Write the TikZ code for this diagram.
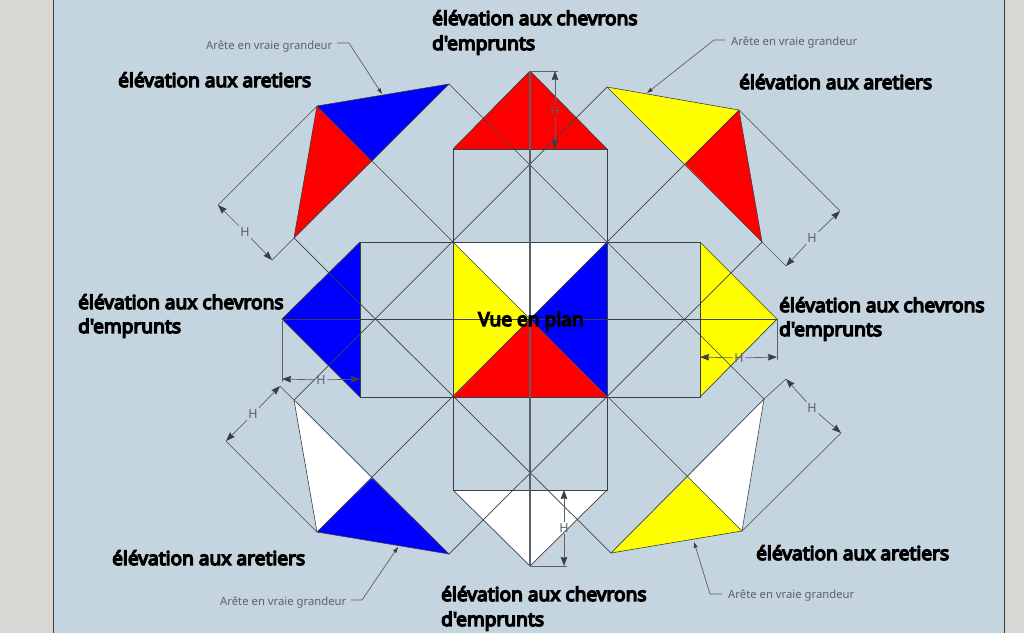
\documentclass[tikz,border=0pt]{standalone}
\usepackage{fontspec}
\usetikzlibrary{arrows.meta}
\newfontfamily\labfont[FakeBold=7]{Noto Sans}
\newfontfamily\smallfont{Noto Sans}
\definecolor{sheet}{HTML}{C5D5E0}
\definecolor{outside}{HTML}{D8D7D3}
\definecolor{pure-red}{HTML}{FF0000}
\definecolor{pure-blue}{HTML}{0000FF}
\definecolor{pure-yellow}{HTML}{FFFF00}
\definecolor{ink}{HTML}{3A3F44}
\definecolor{dimgrey}{HTML}{5C6064}
\tikzset{
  x=1pt,y=-1pt,
  facet/.style={draw=ink,line width=0.6pt},
  build/.style={draw=ink,line width=0.7pt},
  extline/.style={draw=dimgrey,line width=0.7pt},
  dimline/.style={draw=dimgrey,line width=0.7pt,-{Stealth[length=9pt,width=6.5pt,inset=0.8pt,fill=ink,color=ink]}},
  leader/.style={draw=dimgrey,line width=0.7pt,-{Stealth[length=6pt,width=4pt,inset=0.5pt,fill=ink,color=ink]}},
  title/.style={anchor=base west,inner sep=0pt,font=\labfont\fontsize{19.1}{22}\selectfont,text=black},
  note/.style={anchor=base west,inner sep=0pt,font=\smallfont\fontsize{11.3}{12}\selectfont,text=dimgrey},
  hlabel/.style={inner sep=1.5pt,font=\smallfont\fontsize{12.5}{13}\selectfont,text=dimgrey},
}
\begin{document}
\begin{tikzpicture}
\useasboundingbox (0,0) rectangle (1024,633);
\fill[outside] (0,0) rectangle (1024,633);
\fill[sheet] (53,0) rectangle (1004,633);
\draw[line width=1pt,ink] (53,0) -- (53,633) (1004,0) -- (1004,633);
% plan
\coordinate (c) at (530,319);
\coordinate (nw) at (453,242); \coordinate (ne) at (607,242);
\coordinate (sw) at (453,397); \coordinate (se) at (607,397);
\coordinate (tl) at (453,149); \coordinate (tr) at (607,149); \coordinate (ta) at (530,71);
\coordinate (bl) at (453,490); \coordinate (br) at (607,490); \coordinate (ba) at (530,566);
\coordinate (lt) at (360,242); \coordinate (lb) at (360,397); \coordinate (la) at (282,319);
\coordinate (rt) at (700,242); \coordinate (rb) at (700,397); \coordinate (ra) at (777,319);
% hip elevations
\coordinate (A) at (317,106); \coordinate (B) at (449,84); \coordinate (C) at (372,161); \coordinate (D) at (294,238);
\coordinate (P) at (607,87); \coordinate (Q) at (739,110); \coordinate (R) at (685,164); \coordinate (S) at (762,242);
\coordinate (E) at (294,400); \coordinate (F) at (372,478); \coordinate (G) at (317,532); \coordinate (H) at (449,554);
\coordinate (I) at (764,399); \coordinate (J) at (688,477); \coordinate (K) at (742,531); \coordinate (L) at (611,553);
% fills
\fill[white] (nw) -- (ne) -- (c) -- cycle;
\fill[pure-yellow] (nw) -- (sw) -- (c) -- cycle;
\fill[pure-blue] (ne) -- (se) -- (c) -- cycle;
\fill[pure-red] (sw) -- (se) -- (c) -- cycle;
\fill[pure-red] (tl) -- (tr) -- (ta) -- cycle;
\fill[white] (bl) -- (br) -- (ba) -- cycle;
\fill[pure-blue] (lt) -- (lb) -- (la) -- cycle;
\fill[pure-yellow] (rt) -- (rb) -- (ra) -- cycle;
\fill[pure-red] (A) -- (C) -- (D) -- cycle;
\fill[pure-blue] (A) -- (B) -- (C) -- cycle;
\fill[pure-yellow] (P) -- (Q) -- (R) -- cycle;
\fill[pure-red] (Q) -- (R) -- (S) -- cycle;
\fill[white] (E) -- (F) -- (G) -- cycle;
\fill[pure-blue] (F) -- (G) -- (H) -- cycle;
\fill[white] (I) -- (J) -- (K) -- cycle;
\fill[pure-yellow] (J) -- (K) -- (L) -- cycle;
% outlines
\draw[facet] (D) -- (A) -- (B);
\draw[facet] (P) -- (Q) -- (S);
\draw[facet] (E) -- (G) -- (H);
\draw[facet] (I) -- (K) -- (L);
\draw[build] (B) -- (D);
\draw[build] (P) -- (S);
\draw[build] (E) -- (H);
\draw[build] (I) -- (L);
\draw[build] (tl) rectangle (br);
\draw[build] (lt) rectangle (rb);
\draw[build] (tl) -- (ta) -- (tr);
\draw[build] (bl) -- (ba) -- (br);
\draw[build] (lt) -- (la) -- (lb);
\draw[build] (rt) -- (ra) -- (rb);
% diagonals
\draw[build] (B) -- (I);
\draw[build] (D) -- (L);
\draw[build] (P) -- (E);
\draw[build] (S) -- (H);
\draw[build] (Q) -- (G);
\draw[build] (A) -- (K);
% axes
\draw[draw=dimgrey,line width=1.4pt] (ta) -- (ba);
\draw[draw=ink,line width=1pt] (la) -- (ra);
% dimension corners
\coordinate (d1a) at (218,205); \coordinate (d1b) at (272,260);
\coordinate (d2a) at (840,211); \coordinate (d2b) at (786,266);
\coordinate (d3a) at (280,386); \coordinate (d3b) at (226,441);
\coordinate (d4a) at (786,379); \coordinate (d4b) at (841,433);
\coordinate (d5a) at (555,71); \coordinate (d5b) at (555,149); \coordinate (d5e) at (558,71);
\coordinate (d6a) at (564,490); \coordinate (d6b) at (564,566); \coordinate (d6e) at (567,566);
\coordinate (d7a) at (282,379); \coordinate (d7b) at (360,379); \coordinate (d7e) at (282,382); \coordinate (d7s) at (282,321);
\coordinate (d8a) at (700,357); \coordinate (d8b) at (777,357); \coordinate (d8e) at (777,360);
\draw[extline] (A) -- (d1a) (D) -- (d1b);
\draw[extline] (Q) -- (d2a) (S) -- (d2b);
\draw[extline] (E) -- (d3a) (G) -- (d3b);
\draw[extline] (I) -- (d4a) (K) -- (d4b);
\draw[extline] (ta) -- (d5e);
\draw[extline] (ba) -- (d6e);
\draw[extline] (d7s) -- (d7e);
\draw[extline] (ra) -- (d8e);
\node[hlabel] (h1) at (245,232) {H};
\node[hlabel] (h2) at (812,238) {H};
\node[hlabel] (h3) at (253,414) {H};
\node[hlabel] (h4) at (812,408) {H};
\node[hlabel] (h5) at (555,111) {H};
\node[hlabel] (h6) at (564,528) {H};
\node[hlabel] (h7) at (321,380) {H};
\node[hlabel] (h8) at (739,358) {H};
\draw[dimline] (h1) -- (d1a); \draw[dimline] (h1) -- (d1b);
\draw[dimline] (h2) -- (d2a); \draw[dimline] (h2) -- (d2b);
\draw[dimline] (h3) -- (d3a); \draw[dimline] (h3) -- (d3b);
\draw[dimline] (h4) -- (d4a); \draw[dimline] (h4) -- (d4b);
\draw[dimline] (h5) -- (d5a); \draw[dimline] (h5) -- (d5b);
\draw[dimline] (h6) -- (d6a); \draw[dimline] (h6) -- (d6b);
\draw[dimline] (h7) -- (d7a); \draw[dimline] (h7) -- (d7b);
\draw[dimline] (h8) -- (d8a); \draw[dimline] (h8) -- (d8b);
% notes and leaders
\node[note] (n1) at (206,49) {Arête en vraie grandeur};
\node[note] (n2) at (731,45) {Arête en vraie grandeur};
\node[note] (n3) at (220,605) {Arête en vraie grandeur};
\node[note] (n4) at (728,598) {Arête en vraie grandeur};
\coordinate (l1a) at (337,43); \coordinate (l1b) at (349,43); \coordinate (l1c) at (382,94);
\coordinate (l2a) at (725,40); \coordinate (l2b) at (714,40); \coordinate (l2c) at (647,93);
\coordinate (l3a) at (351,600); \coordinate (l3b) at (362,600); \coordinate (l3c) at (398,547);
\coordinate (l4a) at (722,594); \coordinate (l4b) at (710,594); \coordinate (l4c) at (694,542);
\draw[leader] (l1a) -- (l1b) -- (l1c);
\draw[leader] (l2a) -- (l2b) -- (l2c);
\draw[leader] (l3a) -- (l3b) -- (l3c);
\draw[leader] (l4a) -- (l4b) -- (l4c);
% titles
\node[title] (t1) at (432,25) {élévation aux chevrons};
\node[title] (t1b) at (432,50) {d'emprunts};
\node[title] (t2) at (78,309) {élévation aux chevrons};
\node[title] (t2b) at (78,333) {d'emprunts};
\node[title] (t3) at (779,312) {élévation aux chevrons};
\node[title] (t3b) at (779,336) {d'emprunts};
\node[title] (t4) at (441,601) {élévation aux chevrons};
\node[title] (t4b) at (441,626) {d'emprunts};
\node[title] (t5) at (118,87) {élévation aux aretiers};
\node[title] (t6) at (739,89) {élévation aux aretiers};
\node[title] (t7) at (112,565) {élévation aux aretiers};
\node[title] (t8) at (756,560) {élévation aux aretiers};
\node[title] (t9) at (478,326) {Vue en plan};
\end{tikzpicture}
\end{document}
